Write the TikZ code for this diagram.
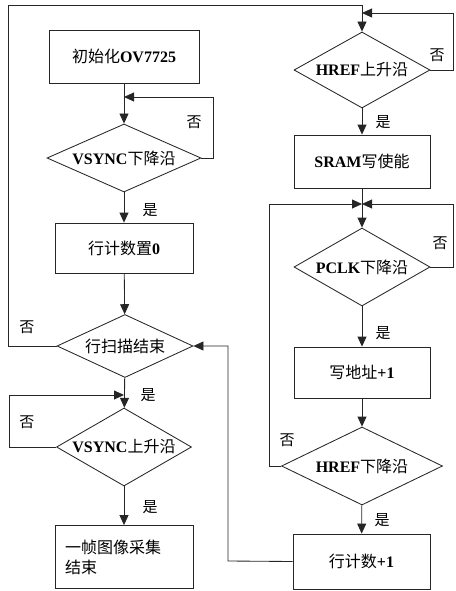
\documentclass[tikz,border=0pt]{standalone}
\usepackage{fontspec}
\setmainfont{Liberation Serif}
\newfontfamily\cjk{Noto Sans CJK SC}
\newcommand{\zh}[1]{{\cjk #1}}
\newcommand{\en}[1]{{\bfseries #1}}
\usetikzlibrary{shapes.geometric,arrows.meta}
\begin{document}
\begin{tikzpicture}[x=1pt,y=-1pt,
  line width=0.85pt, draw=black!85,
  every node/.style={font=\fontsize{16}{20}\selectfont},
  box/.style={draw=black!85, rectangle, inner sep=0pt},
  dia/.style={draw=black!85, diamond, inner sep=0pt, aspect=2},
  arr/.style={-{Triangle[length=10pt,width=9pt]}},
  lbl/.style={font=\fontsize{15}{16}\selectfont\cjk}]
\useasboundingbox (0,0) rectangle (455,591);
% left column
\node[box, minimum width=150pt, minimum height=53pt] (b1) at (124,56.5) {\zh{初始化}\en{OV7725}};
\node[dia, minimum width=154pt, minimum height=68pt] (d1) at (124,158) {\en{VSYNC}\zh{下降沿}};
\node[box, minimum width=138pt, minimum height=50pt] (b2) at (124,248) {\zh{行计数置}\en{0}};
\node[dia, minimum width=136pt, minimum height=63pt] (d2) at (125,346) {\zh{行扫描结束}};
\node[dia, minimum width=135pt, minimum height=78pt] (d3) at (124,447) {\en{VSYNC}\zh{上升沿}};
\node[box, minimum width=138pt, minimum height=63pt, align=left, text width=118pt] (b3) at (124,557) {\zh{一帧图像采集}\\\zh{结束}};
% right column
\node[dia, minimum width=136pt, minimum height=76pt] (d4) at (362,70) {\en{HREF}\zh{上升沿}};
\node[box, minimum width=136pt, minimum height=53pt] (b4) at (362,161.5) {\en{SRAM}\zh{写使能}};
\node[dia, minimum width=136pt, minimum height=78pt] (d5) at (362,267) {\en{PCLK}\zh{下降沿}};
\node[box, minimum width=136pt, minimum height=51pt] (b5) at (362,372.5) {\zh{写地址}\en{+1}};
\node[dia, minimum width=161pt, minimum height=78pt] (d6) at (362,466) {\en{HREF}\zh{下降沿}};
\node[box, minimum width=137pt, minimum height=55pt] (b6) at (361.5,561.5) {\zh{行计数}\en{+1}};
% junctions
\coordinate (j1) at (124,97);
\coordinate (j2) at (124,395);
\coordinate (j3) at (362,13);
\coordinate (j4) at (362,204);
% connectors
\draw[arr] (b1) -- (d1);
\draw[arr] (d1.east) -- (213,158) -- (213,97) -- (j1);
\draw[arr] (d1) -- (b2);
\draw[arr] (b2) -- (d2);
\draw[arr] (d2.west) -- (8,346) -- (8,5) -- (362,5) -- (d4.north);
\draw[arr] (d4.east) -- (453,70) -- (453,13) -- (j3);
\draw[arr] (d4) -- (b4);
\draw[arr] (b4) -- (d5);
\draw[arr] (d5.east) -- (453,267) -- (453,204) -- (j4);
\draw[arr] (d6.west) -- (269,466) -- (269,204) -- (j4);
\draw[arr] (d5) -- (b5);
\draw[arr] (b5) -- (d6);
\draw[arr] (d6) -- (b6);
\draw[arr] (b6.west) -- (228,561) -- (228,346) -- (d2.east);
\draw[arr] (d2) -- (d3);
\draw[arr] (d3.west) -- (9,447) -- (9,395) -- (j2);
\draw[arr] (d3) -- (b3);
% labels
\node[lbl] (l1) at (194,122) {否};
\node[lbl] (l2) at (150,210) {是};
\node[lbl] (l3) at (27,327) {否};
\node[lbl] (l4) at (148,395) {是};
\node[lbl] (l5) at (27,422) {否};
\node[lbl] (l6) at (150,507) {是};
\node[lbl] (l7) at (437,55) {否};
\node[lbl] (l8) at (383,122) {是};
\node[lbl] (l9) at (440,243) {否};
\node[lbl] (l10) at (383,333) {是};
\node[lbl] (l11) at (287,440) {否};
\node[lbl] (l12) at (382,520) {是};
\end{tikzpicture}
\end{document}
